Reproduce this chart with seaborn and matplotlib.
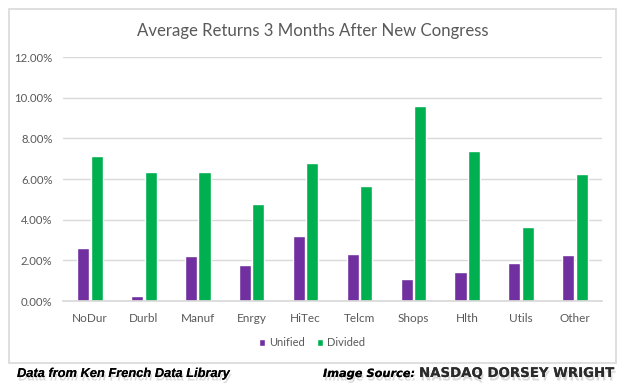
import matplotlib
matplotlib.use("Agg")
import matplotlib.pyplot as plt
import matplotlib.patheffects as pe
from matplotlib.patches import Rectangle
from matplotlib.ticker import FuncFormatter, MultipleLocator
import seaborn as sns
import pandas as pd

sectors = ["NoDur", "Durbl", "Manuf", "Enrgy", "HiTec", "Telcm", "Shops", "Hlth", "Utils", "Other"]
unified = [2.61, 0.25, 2.21, 1.77, 3.20, 2.31, 1.08, 1.43, 1.87, 2.26]
divided = [7.13, 6.35, 6.35, 4.77, 6.79, 5.66, 9.59, 7.38, 3.64, 6.25]
series_names = ["Unified", "Divided"]
colors = ["#7030A0", "#00B050"]

df = pd.DataFrame({
    "sector": sectors * 2,
    "ret": [v / 100 for v in unified] + [v / 100 for v in divided],
    "type": [series_names[0]] * len(sectors) + [series_names[1]] * len(sectors),
})

sns.set_theme(style="white")
plt.rcParams["font.family"] = ["Lato", "DejaVu Sans"]

W, H = 624, 385
fig = plt.figure(figsize=(W / 100, H / 100), dpi=100)
fig.patch.set_facecolor("white")

# chart border box
fig.add_artist(Rectangle((9 / W, 1 - 363 / H), (616 - 9) / W, (363 - 9) / H,
                         transform=fig.transFigure, fill=False, edgecolor="#D9D9D9", lw=1.2))

x0, x1, y0, y1 = 63, 602, 57, 301
ax = fig.add_axes([x0 / W, 1 - y1 / H, (x1 - x0) / W, (y1 - y0) / H])

sns.barplot(data=df, x="sector", y="ret", hue="type", palette=colors,
            width=0.5, gap=0.1, ax=ax, saturation=1)

ax.set_ylim(0, 0.12)
ax.yaxis.set_major_locator(MultipleLocator(0.02))
ax.yaxis.set_major_formatter(FuncFormatter(lambda v, p: f"{v*100:.2f}%"))
ax.grid(axis="y", color="#D9D9D9", lw=1)
ax.set_axisbelow(True)
for s in ["top", "right", "left"]:
    ax.spines[s].set_visible(False)
ax.spines["bottom"].set_color("#D9D9D9")
ax.tick_params(axis="both", length=0, colors="#595959")
ax.tick_params(axis="x", pad=9, labelsize=8.5)
ax.tick_params(axis="y", pad=7.5, labelsize=8.2)
ax.set_xlabel("")
ax.set_ylabel("")

handles, labels = ax.get_legend_handles_labels()
ax.legend(handles, labels, loc="center", bbox_to_anchor=(0.5, (H - 343) / H),
          bbox_transform=fig.transFigure, ncol=2, frameon=False,
          fontsize=8, labelcolor="#595959", handlelength=0.55, handleheight=0.55,
          handletextpad=0.35, columnspacing=1.1)

renderer = fig.canvas.get_renderer()


def fit_width(t, target_px):
    for _ in range(4):
        w = t.get_window_extent(renderer).width
        t.set_fontsize(t.get_fontsize() * target_px / w)


title = fig.text(137 / W, 1 - 36 / H, "Average Returns 3 Months After New Congress",
                 ha="left", va="baseline", fontsize=12.5, color="#595959")
fit_width(title, 354)

shadow = [pe.withSimplePatchShadow(offset=(1.0, -2.5), shadow_rgbFace="#888888", alpha=0.3), pe.Normal()]
t0 = fig.text(17 / W, 1 - 377 / H, "Data from Ken French Data Library", ha="left", va="baseline",
              fontsize=10, fontweight="bold", fontstyle="italic", color="black",
              family=["Liberation Sans"], path_effects=shadow)
fit_width(t0, 213)
t1 = fig.text(323 / W, 1 - 377 / H, "Image Source:", ha="left", va="baseline",
              fontsize=10, fontweight="bold", fontstyle="italic", color="black",
              family=["DejaVu Sans"], path_effects=shadow)
fit_width(t1, 92)
t2 = fig.text(419 / W, 1 - 377 / H, "NASDAQ DORSEY WRIGHT", ha="left", va="baseline",
              fontsize=10, fontweight="bold", color="#2b2b2b", family=["DejaVu Sans"],
              path_effects=shadow)
fit_width(t2, 196)

fig.savefig("out.png", dpi=100)
